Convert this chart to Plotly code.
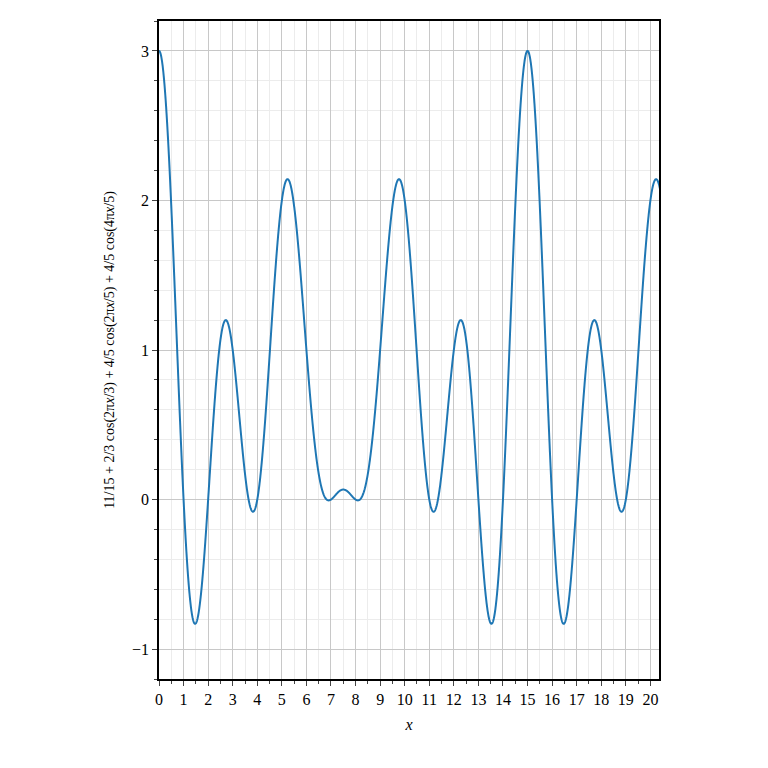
import numpy as np
import plotly.graph_objects as go

# Curve defined by the formula in the axis title: c0 + sum a_k cos(2*pi*x/p_k)
const_term = 11/15
amplitudes = [2/3, 4/5, 4/5]
periods = [3, 5, 2.5]
x_start, x_end, n_samples = 0.0, 20.4, 3000

x = np.linspace(x_start, x_end, n_samples)
y = const_term + sum(a*np.cos(2*np.pi*x/p) for a, p in zip(amplitudes, periods))

x_ticks = list(range(0, 21))
y_ticks = [-1, 0, 1, 2, 3]

fig = go.Figure(go.Scatter(x=x, y=y, mode="lines", line=dict(color="#1f77b4", width=2, simplify=False)))
font = dict(family="Liberation Serif, DejaVu Serif, serif", size=16, color="black")
fig.update_layout(
    width=768, height=768, template="simple_white", showlegend=False,
    margin=dict(l=151, r=117, t=11, b=97), font=font,
    plot_bgcolor="white", paper_bgcolor="white",
)
fig.update_xaxes(range=[x_start, 20.35], tickvals=x_ticks, ticks="outside", ticklen=5,
                 showgrid=True, gridcolor="#c8c8c8", gridwidth=1, mirror=True,
                 showline=True, linecolor="black", linewidth=1.5,
                 minor=dict(dtick=0.5, showgrid=True, gridcolor="#ececec", ticks="outside", ticklen=3),
                 title=dict(text="<i>x</i>", font=font, standoff=12))
fig.update_yaxes(range=[-1.2, 3.2], tickvals=y_ticks, ticks="outside", ticklen=5,
                 showgrid=True, gridcolor="#c8c8c8", gridwidth=1, mirror=True,
                 showline=True, linecolor="black", linewidth=1.5,
                 minor=dict(dtick=0.2, showgrid=True, gridcolor="#ececec", ticks="outside", ticklen=3),
                 title=dict(text="11/15 + 2/3 cos(2π<i>x</i>/3) + 4/5 cos(2π<i>x</i>/5) + 4/5 cos(4π<i>x</i>/5)",
                            font=dict(family=font["family"], size=14, color="black"), standoff=14))
fig.write_html("out.html")
